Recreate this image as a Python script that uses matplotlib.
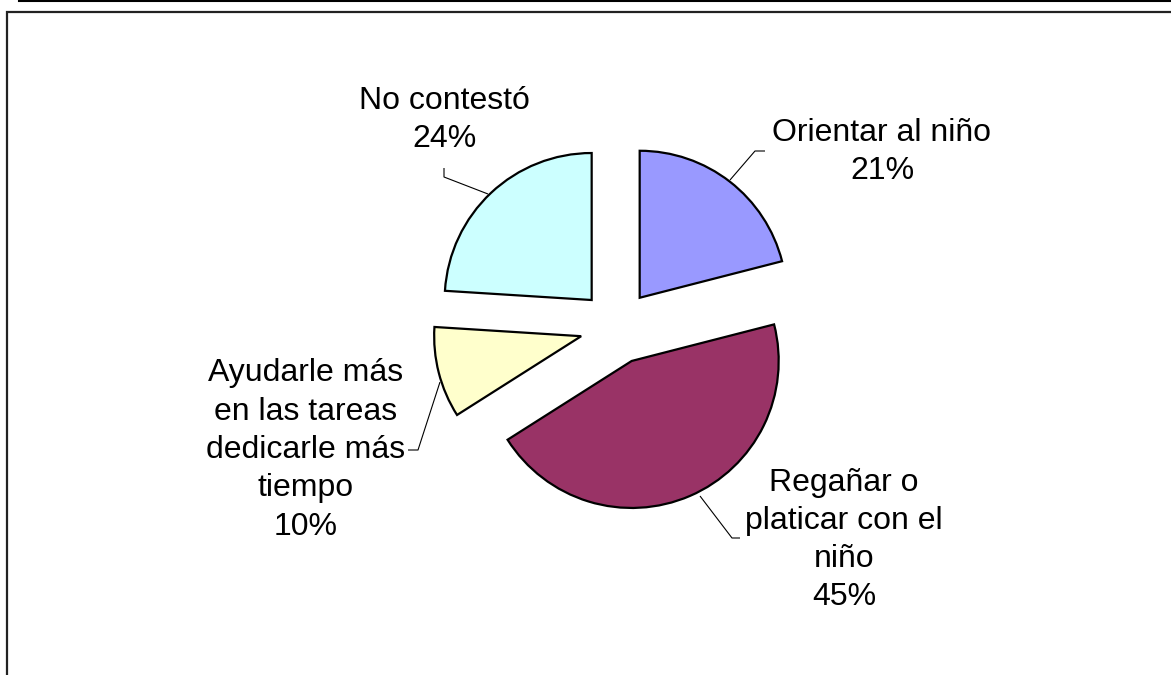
import matplotlib
matplotlib.use("Agg")
import matplotlib.pyplot as plt
from matplotlib.patches import Rectangle
from matplotlib.lines import Line2D

categories = ["Orientar al niño", "Regañar o\nplaticar con el\nniño", "Ayudarle más\nen las tareas\ndedicarle más\ntiempo", "No contestó"]
values = [21, 45, 10, 24]
pct_labels = ["21%", "45%", "10%", "24%"]
colors = ["#9999FF", "#993366", "#FFFFCC", "#CCFFFF"]

W, H = 1171, 675
fig = plt.figure(figsize=(W / 100, H / 100), dpi=100)
fig.patch.set_facecolor("white")
ax = fig.add_axes([0, 0, 1, 1])

cx, cy, R = 617, H - 327, 147
offset = 37  # explode distance in pixels (data units)
ax.pie(values, colors=colors, startangle=90, counterclock=False,
       explode=[offset] * len(values), center=(cx, cy), radius=R,
       wedgeprops=dict(edgecolor="black", linewidth=1.6))
ax.set_xlim(0, W)
ax.set_ylim(0, H)
ax.set_aspect("equal")
ax.axis("off")

font = dict(family=["Liberation Sans", "DejaVu Sans"], fontsize=23, color="black",
            ha="center", va="center", linespacing=1.36)

# label positions in pixels (x, y from top)
label_pos = [(882, 152), (844, 540), (306, 450), (444, 120)]
for cat, pct, (x, y) in zip(categories, pct_labels, label_pos):
    ax.text(x, H - y, cat + "\n" + pct, **font)

# leader lines (pixel coords, y from top)
leaders = [
    [(765, 151), (755, 151), (730, 180)],
    [(700, 496), (732, 538), (740, 538)],
    [(408, 450), (418, 450), (440, 382)],
    [(444, 168), (444, 177), (488, 194)],
]
for pts in leaders:
    xs = [p[0] for p in pts]
    ys = [H - p[1] for p in pts]
    ax.plot(xs, ys, color="black", linewidth=0.8, solid_capstyle="butt")

# frame decorations
fig.add_artist(Line2D([19 / W, 1.0], [1 - 0.8 / H, 1 - 0.8 / H], color="black",
                      linewidth=1.5, transform=fig.transFigure))
fig.add_artist(Rectangle((6.5 / W, -0.1), 2.0, 1.1 - 12 / H, fill=False,
                         edgecolor="#222222", linewidth=1.6, transform=fig.transFigure))

fig.savefig("out.png", dpi=100, facecolor="white")
